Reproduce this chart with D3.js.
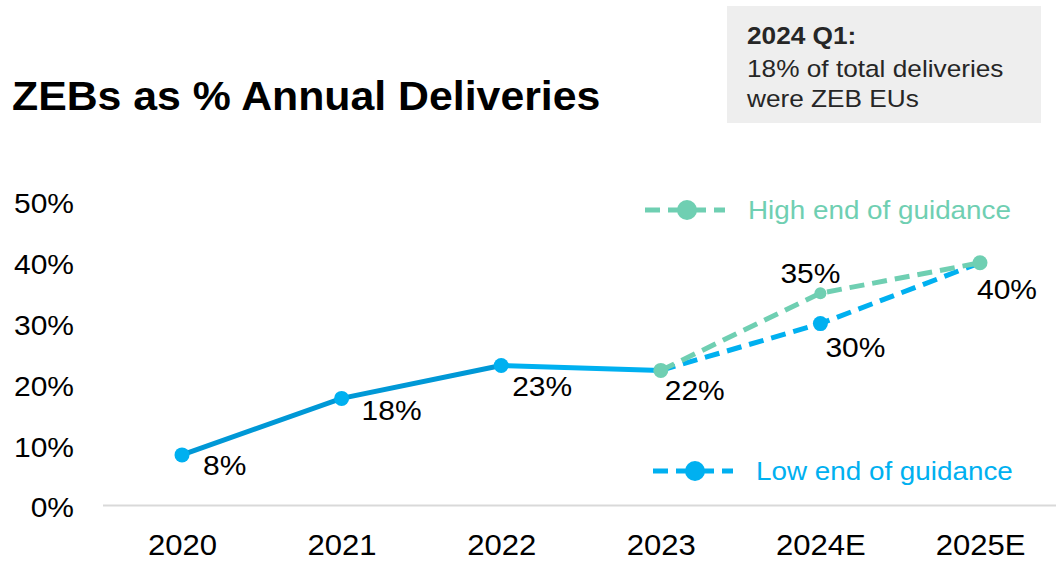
<!DOCTYPE html>
<html>
<head>
<meta charset="utf-8">
<script src="https://cdn.jsdelivr.net/npm/d3@7"></script>
<style>
  html, body { margin: 0; padding: 0; background: #fff; }
  svg { display: block; font-family: "Liberation Sans", Arial, sans-serif; }
</style>
</head>
<body>
<svg id="chart" width="1056" height="563"></svg>
<script>
// Categories and series (percent of annual deliveries)
const years = ["2020", "2021", "2022", "2023", "2024E", "2025E"];
const actual = [8.4, 17.7, 23.1, 22.3];
const highGuidance = [22.3, 35, 40];
const lowGuidance = [22.3, 30, 40];
const guidanceYears = ["2023", "2024E", "2025E"];
const yTicks = [0, 10, 20, 30, 40, 50];

const colors = { dark: "#0098D6", blue: "#00B0F0", mint: "#6FCFB2", text: "#000000" };

// Slightly wide lettering: widen each text run horizontally
const WIDEN = 1.07;
function widen(sel) {
  sel.each(function () {
    const len = this.getComputedTextLength();
    d3.select(this).attr("textLength", len * WIDEN).attr("lengthAdjust", "spacingAndGlyphs");
  });
}

const svg = d3.select("#chart");

const x = d3.scalePoint().domain(years).range([182, 980]);
const y = d3.scaleLinear().domain([0, 50]).range([506, 202]);
const pct = v => d3.format(".0f")(v) + "%";

// Title
svg.append("text")
  .attr("x", 12).attr("y", 110)
  .attr("font-size", 40).attr("font-weight", "bold").attr("fill", "#000")
  .text("ZEBs as % Annual Deliveries").call(widen);

// Callout box
const box = svg.append("g");
box.append("rect").attr("x", 727).attr("y", 6).attr("width", 314).attr("height", 117).attr("fill", "#EEEEEE");
box.append("text").attr("x", 747).attr("y", 44).attr("font-size", 24.5).attr("font-weight", "bold").attr("fill", "#262626").text("2024 Q1:").call(widen);
box.append("text").attr("x", 747).attr("y", 77).attr("font-size", 24.5).attr("fill", "#262626").text("18% of total deliveries").call(widen);
box.append("text").attr("x", 747).attr("y", 107).attr("font-size", 24.5).attr("fill", "#262626").text("were ZEB EUs").call(widen);

// Y axis (labels only)
const yAxis = d3.axisLeft(y).tickValues(yTicks).tickFormat(pct).tickSize(0).tickPadding(0);
const yg = svg.append("g").attr("transform", "translate(74,2)").call(yAxis);
yg.select(".domain").remove();
yg.selectAll("text").attr("font-size", 28).attr("fill", colors.text)
  .attr("font-family", "Liberation Sans, Arial, sans-serif").call(widen);

// X axis baseline and labels
const xAxis = d3.axisBottom(x).tickSize(0).tickPadding(0);
const xg = svg.append("g").attr("transform", "translate(0,534)").call(xAxis);
xg.select(".domain").remove();
xg.selectAll("text").attr("font-size", 29).attr("fill", colors.text).attr("dy", "0.71em")
  .attr("font-family", "Liberation Sans, Arial, sans-serif").call(widen);
svg.append("line").attr("x1", 103).attr("x2", 1056).attr("y1", y(0) - 0.5).attr("y2", y(0) - 0.5)
  .attr("stroke", "#D9D9D9").attr("stroke-width", 2);

const line = d3.line().x(d => x(d.year)).y(d => y(d.value));
const actualPts = actual.map((v, i) => ({ year: years[i], value: v }));
const highPts = highGuidance.map((v, i) => ({ year: guidanceYears[i], value: v }));
const lowPts = lowGuidance.map((v, i) => ({ year: guidanceYears[i], value: v }));

// Actual deliveries line: darker through 2022, lighter to 2023
svg.append("path").datum(actualPts.slice(0, 3)).attr("d", line)
  .attr("fill", "none").attr("stroke", colors.dark).attr("stroke-width", 5);
svg.append("path").datum(actualPts.slice(2)).attr("d", line)
  .attr("fill", "none").attr("stroke", colors.blue).attr("stroke-width", 5);

// Guidance lines
svg.append("path").datum(lowPts).attr("d", line)
  .attr("fill", "none").attr("stroke", colors.blue).attr("stroke-width", 5).attr("stroke-dasharray", "15,8");
svg.append("path").datum(highPts).attr("d", line)
  .attr("fill", "none").attr("stroke", colors.mint).attr("stroke-width", 5).attr("stroke-dasharray", "15,8");

// Markers
svg.selectAll(".m-actual").data(actualPts.slice(0, 3)).join("circle")
  .attr("cx", d => x(d.year)).attr("cy", d => y(d.value)).attr("r", 7.5).attr("fill", colors.blue);
svg.selectAll(".m-low").data(lowPts.slice(1, 2)).join("circle")
  .attr("cx", d => x(d.year)).attr("cy", d => y(d.value)).attr("r", 7.5).attr("fill", colors.blue);
svg.append("circle").attr("cx", x("2023")).attr("cy", y(22.3)).attr("r", 7.5).attr("fill", colors.mint);
svg.append("circle").attr("cx", x("2024E")).attr("cy", y(35)).attr("r", 6).attr("fill", colors.mint);
svg.append("circle").attr("cx", x("2025E")).attr("cy", y(40)).attr("r", 7.5).attr("fill", colors.mint);

// Data labels
const labels = [
  { year: "2020", value: actual[0], dx: 21, dy: 20 },
  { year: "2021", value: actual[1], dx: 20, dy: 22 },
  { year: "2022", value: actual[2], dx: 11, dy: 30 },
  { year: "2023", value: actual[3], dx: 4, dy: 30 },
  { year: "2024E", value: highGuidance[1], dx: -40, dy: -10 },
  { year: "2024E", value: lowGuidance[1], dx: 5, dy: 33 },
  { year: "2025E", value: highGuidance[2], dx: -3, dy: 36 }
];
svg.selectAll(".dlabel").data(labels).join("text")
  .attr("x", d => x(d.year) + d.dx).attr("y", d => y(d.value) + d.dy)
  .attr("font-size", 28).attr("fill", colors.text)
  .text(d => pct(d.value)).call(widen);

// Legend
const legend = [
  { label: "High end of guidance", color: colors.mint, x0: 645, y0: 210 },
  { label: "Low end of guidance", color: colors.blue, x0: 653, y0: 471 }
];
const lg = svg.selectAll(".legend").data(legend).join("g")
  .attr("transform", d => `translate(${d.x0},${d.y0})`);
lg.append("line").attr("x1", 0).attr("x2", 80).attr("y1", 0).attr("y2", 0)
  .attr("stroke", d => d.color).attr("stroke-width", 5).attr("stroke-dasharray", "15,8");
lg.append("circle").attr("cx", 42).attr("cy", 0).attr("r", 10).attr("fill", d => d.color);
lg.append("text").attr("x", 103).attr("y", 0).attr("dy", "0.35em")
  .attr("font-size", 26).attr("fill", d => d.color).text(d => d.label).call(widen);
</script>
</body>
</html>
